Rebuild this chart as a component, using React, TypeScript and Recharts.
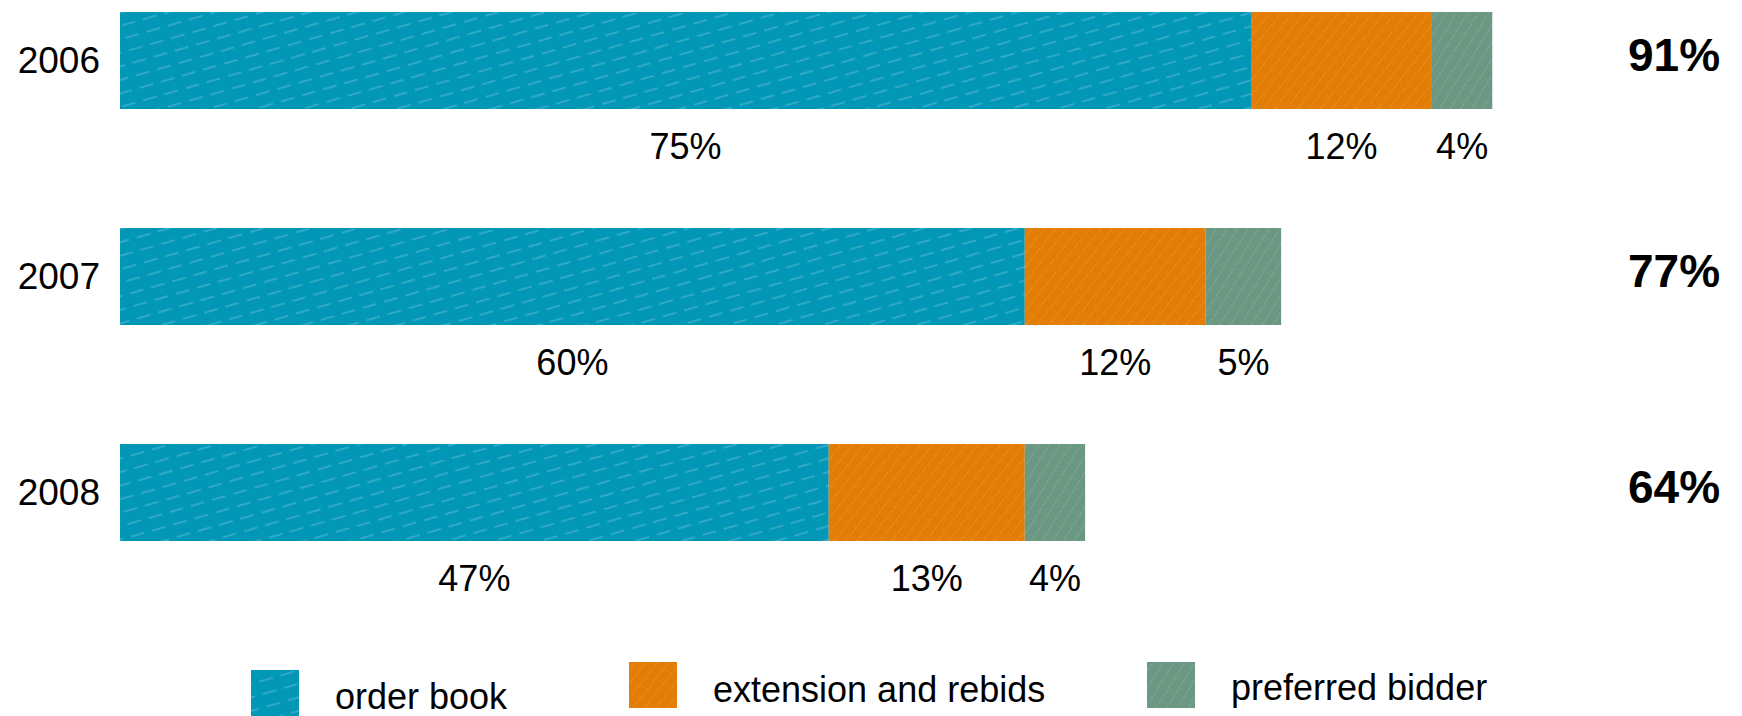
import React from "react";
import { BarChart, Bar, XAxis, YAxis, Legend, LabelList } from "recharts";

const YEARS = ["2006", "2007", "2008"];
const ORDER_BOOK = [75, 60, 47];
const EXTENSION = [12, 12, 13];
const PREFERRED = [4, 5, 4];
const TOTALS = [91, 77, 64];

const SERIES = [
  { key: "orderBook", name: "order book", fill: "url(#pBlue)" },
  { key: "extension", name: "extension and rebids", fill: "url(#pOrange)" },
  { key: "preferred", name: "preferred bidder", fill: "url(#pGreen)" },
];

const FONT = '"Liberation Sans", Arial, sans-serif';

// legend item placement (square x/y, text baseline) inside the legend strip
const LEGEND_POS = [
  { x: 251, y: 15, ty: 54 },
  { x: 629, y: 7, ty: 47 },
  { x: 1147, y: 7, ty: 45 },
];

const data = YEARS.map((year, i) => ({
  year,
  orderBook: ORDER_BOOK[i],
  extension: EXTENSION[i],
  preferred: PREFERRED[i],
  total: TOTALS[i],
}));

function renderValue(props: any) {
  const vb = props.viewBox && props.viewBox.width != null ? props.viewBox : props;
  const { x, y, width, height } = vb;
  return (
    <text
      x={x + width / 2}
      y={y + height + 50}
      textAnchor="middle"
      fontSize={36}
      fontFamily={FONT}
      fill="#000"
    >
      {props.value}%
    </text>
  );
}

function TotalTick(props: any) {
  const { x, y, payload } = props;
  return (
    <text x={x} y={y - 5} dy="0.355em" textAnchor="start" fontSize={46} fontWeight="bold" fontFamily={FONT} fill="#000">
      {TOTALS[payload.index]}%
    </text>
  );
}

function LegendContent() {
  return (
    <svg width={1742} height={61} style={{ display: "block", overflow: "visible" }}>
      {SERIES.map((s, i) => (
        <g key={s.key}>
          <rect x={LEGEND_POS[i].x} y={LEGEND_POS[i].y} width={48} height={46} fill={s.fill} />
          <text x={LEGEND_POS[i].x + 84} y={LEGEND_POS[i].ty} fontSize={36} fontFamily={FONT} fill="#000">
            {s.name}
          </text>
        </g>
      ))}
    </svg>
  );
}

export default function App() {
  return (
    <div style={{ position: "absolute", left: 0, top: 0, width: 1742, height: 716, background: "#fff" }}>
      <BarChart
        width={1742}
        height={716}
        data={data}
        layout="vertical"
        margin={{ top: -48, right: 0, bottom: 116, left: 0 }}
      >
        <defs>
          <pattern id="pBlue" patternUnits="userSpaceOnUse" width={44} height={13} patternTransform="rotate(-16)">
            <rect width={44} height={13} fill="#0297B7" />
            <line x1={0} y1={6} x2={44} y2={6} stroke="#ffffff" strokeOpacity={0.35} strokeWidth={1} strokeDasharray="14 8" />
          </pattern>
          <pattern id="pOrange" patternUnits="userSpaceOnUse" width={9} height={9} patternTransform="rotate(38)">
            <rect width={9} height={9} fill="#E27D05" />
            <line x1={0} y1={0} x2={0} y2={9} stroke="#ffffff" strokeOpacity={0.3} strokeWidth={1} strokeDasharray="3 2" />
          </pattern>
          <pattern id="pGreen" patternUnits="userSpaceOnUse" width={9} height={9} patternTransform="rotate(32)">
            <rect width={9} height={9} fill="#6B9883" />
            <line x1={0} y1={0} x2={0} y2={9} stroke="#ffffff" strokeOpacity={0.3} strokeWidth={1} strokeDasharray="3 2" />
          </pattern>
        </defs>
        <XAxis type="number" domain={[0, 100]} hide />
        <YAxis
          yAxisId="left"
          type="category"
          dataKey="year"
          width={120}
          axisLine={false}
          tickLine={false}
          tickSize={0}
          tickMargin={20}
          tick={{ fontSize: 37, fill: "#000", fontFamily: FONT }}
        />
        <YAxis
          yAxisId="right"
          orientation="right"
          type="category"
          dataKey="year"
          width={114}
          axisLine={false}
          tickLine={false}
          tickSize={0}
          tickMargin={0}
          tick={<TotalTick />}
        />
        {SERIES.map((s) => (
          <Bar
            key={s.key}
            yAxisId="left"
            dataKey={s.key}
            name={s.name}
            stackId="a"
            barSize={97}
            fill={s.fill}
            isAnimationActive={false}
          >
            <LabelList dataKey={s.key} content={renderValue} />
          </Bar>
        ))}
        <Legend
          layout="horizontal"
          verticalAlign="middle"
          align="center"
          content={<LegendContent />}
          wrapperStyle={{ top: 655, left: 0, width: 1742, height: 61 }}
        />
      </BarChart>
    </div>
  );
}
